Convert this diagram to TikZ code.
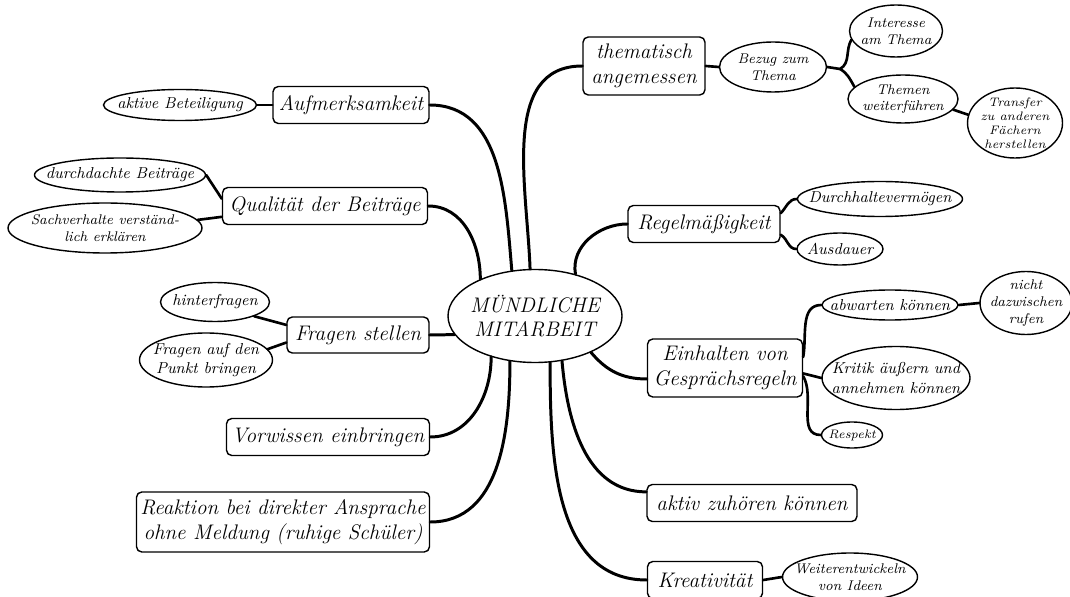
\documentclass[tikz,border=0pt]{standalone}
\usepackage{tikz}
\usetikzlibrary{shapes.geometric}

\begin{document}
\begin{tikzpicture}[x=0.02cm,y=-0.02cm,
    wh/.style 2 args={minimum width=#1*0.02cm,minimum height=#2*0.02cm},
    topic/.style={draw,rounded corners=3pt,line width=0.8pt,inner sep=-10pt,align=center,font=\large\itshape},
    idea/.style={draw,ellipse,line width=0.8pt,inner sep=-10pt,align=center,font=\small\itshape},
    tight/.style={font=\footnotesize\itshape},
    hub/.style={draw,ellipse,line width=0.8pt,inner sep=-10pt,align=center,font=\large\itshape},
    branch/.style={line width=1.7pt,line cap=round},
    twig/.style={line width=1.5pt,line cap=round}]
    \useasboundingbox (0,0) rectangle (1070,597);

    \node[hub,wh={174}{93}] (mm) at (535,316) {MÜNDLICHE\\MITARBEIT};

    % left side
    \node[topic,wh={156}{37}] (aufm) at (351,105) {Aufmerksamkeit};
    \node[idea,wh={153}{31}] (akb) at (180,105) {aktive Beteiligung};
    \node[topic,wh={205}{37}] (qual) at (325,206) {Qualität der Beiträge};
    \node[idea,wh={171}{34}] (durch) at (120,175) {durchdachte Beiträge};
    \node[idea,tight,wh={194}{50}] (sach) at (105,228) {Sachverhalte verständ-\\lich erklären};
    \node[topic,wh={142}{36}] (fra) at (358,335) {Fragen stellen};
    \node[idea,wh={109}{39}] (hint) at (215,302) {hinterfragen};
    \node[idea,wh={133}{54}] (fap) at (206,360) {Fragen auf den\\Punkt bringen};
    \node[topic,wh={203}{37}] (vor) at (328,437) {Vorwissen einbringen};
    \node[topic,wh={293}{60}] (rea) at (283,522) {Reaktion bei direkter Ansprache\\ohne Meldung (ruhige Schüler)};

    % right side
    \node[topic,wh={122}{58}] (them) at (644,66) {thematisch\\angemessen};
    \node[idea,tight,wh={107}{50}] (bez) at (773,67) {Bezug zum\\Thema};
    \node[idea,tight,wh={93}{52}] (int) at (896,31) {Interesse\\am Thema};
    \node[idea,tight,wh={110}{48}] (thw) at (903,99) {Themen\\weiterführen};
    \node[idea,wh={95}{70},font=\fontsize{7}{8}\selectfont\itshape] (trans) at (1015,123) {Transfer\\zu anderen\\Fächern\\herstellen};
    \node[topic,wh={152}{37}] (regel) at (704,224) {Regelmäßigkeit};
    \node[idea,wh={165}{35}] (dvm) at (880,199) {Durchhaltevermögen};
    \node[idea,wh={86}{32}] (ausd) at (840,249) {Ausdauer};
    \node[topic,wh={155}{58}] (ein) at (725,368) {Einhalten von\\Gesprächsregeln};
    \node[idea,wh={136}{30}] (abw) at (890,305) {abwarten können};
    \node[idea,tight,wh={92}{63}] (nic) at (1026,303) {nicht\\dazwischen\\rufen};
    \node[idea,wh={148}{63}] (kri) at (896,378) {Kritik äußern und\\annehmen können};
    \node[idea,wh={61}{26},font=\fontsize{7}{8}\selectfont\itshape] (res) at (852,435) {Respekt};
    \node[topic,wh={210}{37}] (akt) at (752,503) {aktiv zuhören können};
    \node[topic,wh={115}{37}] (krea) at (705,580) {Kreativität};
    \node[idea,tight,wh={135}{48}] (wei) at (850,577) {Weiterentwickeln\\von Ideen};

    % main branches
    \draw[branch] (aufm.east) to[out=0,in=95] (mm.117);
    \draw[branch] (mm.96) to[out=92,in=180] (them.west);
    \draw[branch] (qual.east) to[out=0,in=90] (mm.146);
    \draw[branch] (mm.46) to[out=100,in=180] (regel.west);
    \draw[branch] (fra.east) -- (mm.193);
    \draw[branch] (vor.east) to[out=0,in=-90] (mm.223);
    \draw[branch] (rea.east) to[out=0,in=-90] (mm.241);
    \draw[branch] (mm.288) to[out=-90,in=180] (krea.west);
    \draw[branch] (mm.301) to[out=-85,in=180] (akt.174);
    \draw[branch] (mm.327) to[out=-50,in=180] (ein.188);

    % sub branches
    \draw[twig] (akb.east) -- (aufm.west);
    \draw[twig] (durch.east) -- (qual.176);
    \draw[twig] (sach.5) -- (qual.186);
    \draw[twig] (hint.-20) -- (fra.172);
    \draw[twig] (fap.10) -- (fra.186);
    \draw[twig] (them.east) -- (bez.west);
    \coordinate (bj) at (840,69);
    \draw[twig] (bez.east) -- (bj);
    \draw[twig] (bj) to[out=30,in=-120] (int.191);
    \draw[twig] (bj) to[out=-30,in=120] (thw.166);
    \draw[twig] (thw.-12) -- (trans.170);
    \draw[twig] (regel.8) to[out=45,in=180] (dvm.west);
    \draw[twig] (regel.-8) to[out=-30,in=180] (ausd.west);
    \draw[twig] (ein.8) to[out=80,in=180] (abw.west);
    \draw[twig] (ein.-4) -- (kri.west);
    \draw[twig] (ein.-6) to[out=-60,in=180] (res.west);
    \draw[twig] (abw.east) -- (nic.west);
    \draw[twig] (krea.east) -- (wei.west);
\end{tikzpicture}
\end{document}
